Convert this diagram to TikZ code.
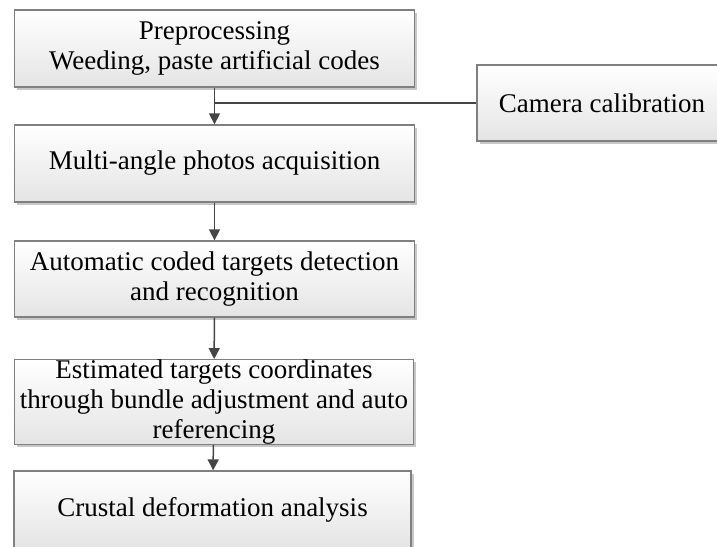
\documentclass[tikz,border=0pt]{standalone}
\usepackage{fontspec}
\setmainfont{Liberation Serif}
\usetikzlibrary{arrows.meta,shadows}

\definecolor{boxline}{HTML}{808080}
\definecolor{boxbottom}{HTML}{E4E4E4}
\definecolor{flowline}{HTML}{454545}

\tikzset{
  stepbox/.style={
    draw=boxline, line width=1.3pt,
    top color=white, bottom color=boxbottom,
    minimum width=400pt, minimum height=77pt,
    align=center, inner sep=0pt,
    font=\fontsize{27}{30}\selectfont,
    drop shadow={shadow xshift=2.5pt, shadow yshift=-2.5pt,
                 fill=black!22, opacity=1}
  },
  flow/.style={
    draw=flowline, line width=1.5pt,
    -{Triangle[length=11pt,width=11pt]}
  },
  feed/.style={draw=flowline, line width=1.5pt}
}

\begin{document}
\begin{tikzpicture}[x=1pt,y=-1pt]
  \useasboundingbox (0,0) rectangle (717,546);
  \clip (0,0) rectangle (717,546);

  % main processing chain
  \node[stepbox] (prep) at (214.5,48.5)
    {Preprocessing\\Weeding, paste artificial codes};
  \node[stepbox] (photo) at (214.5,163.5)
    {Multi-angle photos acquisition};
  \node[stepbox, minimum height=76pt] (detect) at (214.5,279)
    {Automatic coded targets detection\\and recognition};
  \node[stepbox, minimum width=399pt] (bundle) at (214,402)
    {Estimated targets coordinates\\through bundle adjustment and auto\\referencing};
  \node[stepbox, minimum width=397pt] (crust) at (212.5,509.5)
    {Crustal deformation analysis};

  % side input
  \node[stepbox, minimum width=250pt, minimum height=76pt] (calib) at (602,103)
    {Camera calibration};

  % connectors
  \draw[flow] (prep) -- (photo);
  \draw[feed] (calib.west) -- (calib.west -| prep.south);
  \draw[flow] (photo) -- (detect);
  \draw[flow] (detect) -- (bundle);
  \draw[flow] (bundle) -- (crust);
\end{tikzpicture}
\end{document}
